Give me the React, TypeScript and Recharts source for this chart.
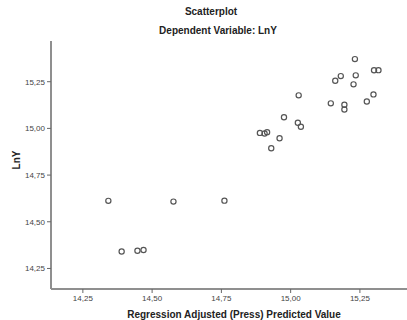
import { ScatterChart, Scatter, XAxis, YAxis } from 'recharts';

// predicted value (x) vs LnY (y)
const predicted = [
  15.232, 15.301, 15.317, 15.181, 15.235, 15.161, 15.227, 15.029, 15.299, 15.275,
  15.145, 15.194, 15.194, 14.976, 15.026, 15.037, 14.889, 14.906, 14.915, 14.96,
  14.93, 14.342, 14.577, 14.761, 14.39, 14.447, 14.469,
];
const lnY = [
  15.371, 15.311, 15.312, 15.28, 15.284, 15.255, 15.236, 15.177, 15.182, 15.144,
  15.134, 15.127, 15.101, 15.06, 15.03, 15.009, 14.976, 14.973, 14.98, 14.947,
  14.894, 14.612, 14.608, 14.613, 14.341, 14.345, 14.349,
];
const xTicks = [14.25, 14.5, 14.75, 15.0, 15.25];
const yTicks = [14.25, 14.5, 14.75, 15.0, 15.25];

const points = predicted.map((x, i) => ({ x, y: lnY[i] }));

const fmt = (v: number) => v.toFixed(2).replace('.', ',');
const font = '"Liberation Sans", Arial, sans-serif';
const axisColor = '#8f8f8f';
const tickStyle = { fill: '#444', fontSize: 8, fontFamily: font };

export default function App() {
  return (
    <div style={{ position: 'absolute', left: 0, top: 0, width: 407, height: 320, background: '#fff', fontFamily: font }}>
      <div style={{ position: 'absolute', left: 0, width: 422, top: 6, textAlign: 'center', fontSize: 10, fontWeight: 'bold', color: '#222' }}>
        Scatterplot
      </div>
      <div style={{ position: 'absolute', left: 0, width: 436, top: 25, textAlign: 'center', fontSize: 10, fontWeight: 'bold', color: '#222' }}>
        Dependent Variable: LnY
      </div>
      <div
        style={{
          position: 'absolute',
          left: 16,
          top: 160,
          transform: 'translate(-50%, -50%) rotate(-90deg)',
          fontSize: 10,
          fontWeight: 'bold',
          color: '#222',
        }}
      >
        LnY
      </div>
      <ScatterChart width={407} height={320} margin={{ top: 41, right: 0, left: 0, bottom: 0 }}>
        <XAxis
          type="number"
          dataKey="x"
          domain={[14.135, 15.42]}
          ticks={xTicks}
          tickFormatter={fmt}
          tick={tickStyle}
          tickSize={4}
          height={31}
          allowDataOverflow
          stroke={axisColor}
          axisLine={{ stroke: axisColor, strokeWidth: 2 }}
          tickLine={{ stroke: '#666' }}
          label={{
            value: 'Regression Adjusted (Press) Predicted Value',
            position: 'insideBottom',
            offset: 2,
            dx: 5,
            style: { fontSize: 10, fontWeight: 'bold', fill: '#222', fontFamily: font },
          }}
        />
        <XAxis xAxisId="top" orientation="top" type="number" dataKey="x" domain={[14.135, 15.42]} tick={false} tickLine={false} height={0} axisLine={{ stroke: axisColor, strokeWidth: 2 }} />
        <YAxis
          type="number"
          dataKey="y"
          domain={[14.14, 15.468]}
          ticks={yTicks}
          tickFormatter={fmt}
          tick={tickStyle}
          tickSize={4}
          width={51}
          allowDataOverflow
          axisLine={{ stroke: axisColor, strokeWidth: 2 }}
          tickLine={{ stroke: '#666' }}
        />
        <Scatter
          data={points}
          isAnimationActive={false}
          shape={(p: any) => <circle cx={p.cx} cy={p.cy} r={2.6} fill="none" stroke="#555" strokeWidth={1.2} />}
        />
      </ScatterChart>
    </div>
  );
}
